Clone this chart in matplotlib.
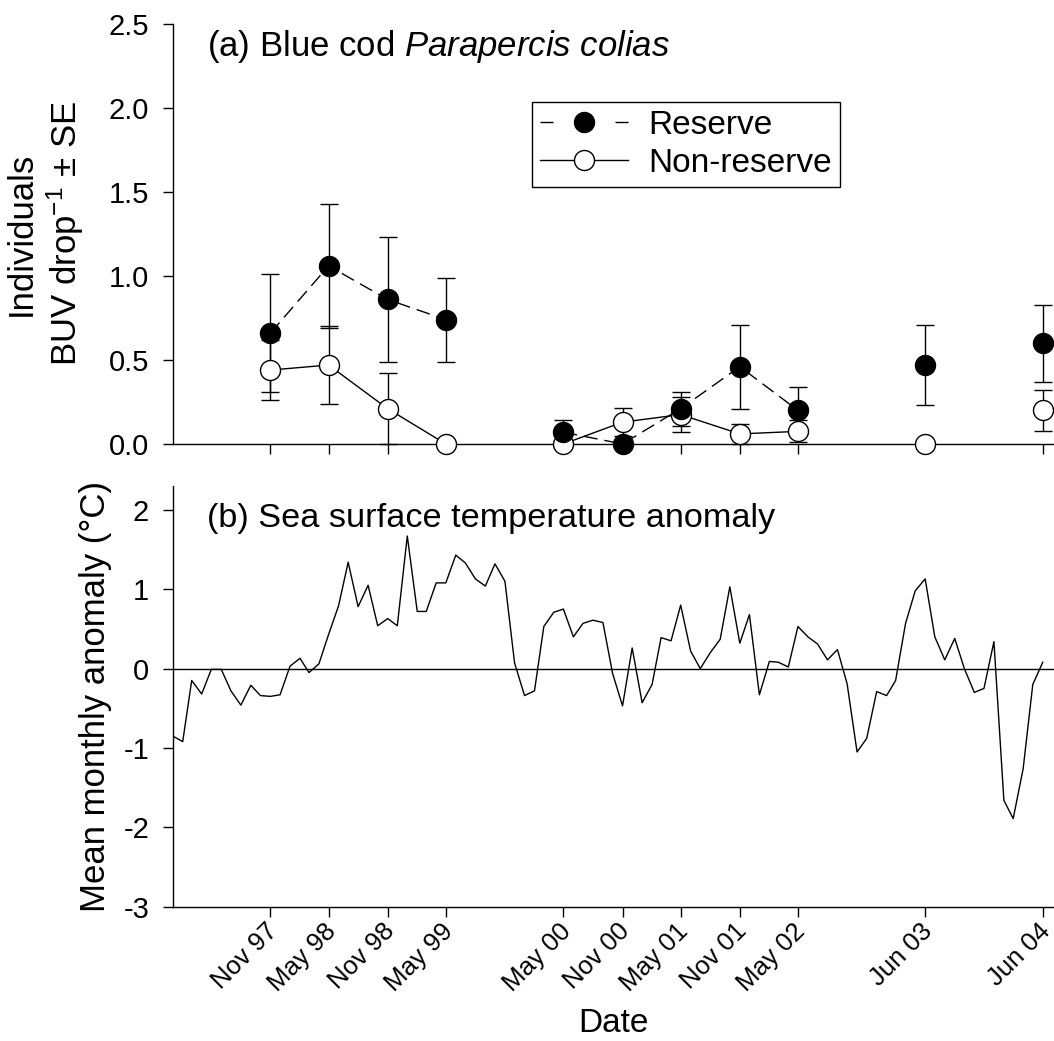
import numpy as np
import pandas as pd
import matplotlib
matplotlib.use("Agg")
import matplotlib.pyplot as plt
import matplotlib.transforms as mtransforms
from matplotlib.lines import Line2D
from matplotlib.ticker import FormatStrFormatter

plt.rcParams["font.family"] = "Liberation Sans"
plt.rcParams["mathtext.fontset"] = "custom"
plt.rcParams["mathtext.rm"] = "Liberation Sans"
plt.rcParams["mathtext.it"] = "Liberation Sans:italic"
plt.rcParams["axes.unicode_minus"] = False

# BUV survey dates and labels
survey_dates = pd.to_datetime(["1997-11-01", "1998-05-01", "1998-11-01", "1999-05-01",
                               "2000-05-01", "2000-11-01", "2001-05-01", "2001-11-01",
                               "2002-05-01", "2003-06-01", "2004-06-01"])
tick_labels = ["Nov 97", "May 98", "Nov 98", "May 99", "May 00", "Nov 00",
               "May 01", "Nov 01", "May 02", "Jun 03", "Jun 04"]
# surveys joined by a line share a group
survey_group = [0, 0, 0, 0, 1, 1, 1, 1, 1, 2, 3]

reserve_mean = [0.66, 1.06, 0.86, 0.74, 0.07, 0.00, 0.21, 0.46, 0.20, 0.47, 0.60]
reserve_se = [0.35, 0.37, 0.37, 0.25, 0.07, 0.00, 0.10, 0.25, 0.14, 0.24, 0.23]
nonres_mean = [0.44, 0.47, 0.21, 0.00, 0.00, 0.13, 0.175, 0.06, 0.075, 0.00, 0.20]
nonres_se = [0.18, 0.23, 0.21, 0.00, 0.00, 0.085, 0.105, 0.06, 0.065, 0.00, 0.12]

# monthly SST anomaly, Jan 1997 - Jun 2004
sst_dates = pd.date_range("1997-01-01", "2004-06-01", freq="MS")
sst_anomaly = [
    -0.85, -0.92, -0.15, -0.32, -0.01, -0.01, -0.28, -0.46, -0.21, -0.34, -0.35, -0.33,
    0.03, 0.13, -0.05, 0.06, 0.43, 0.79, 1.34, 0.78, 1.05, 0.54, 0.63, 0.54,
    1.67, 0.72, 0.72, 1.08, 1.08, 1.43, 1.33, 1.13, 1.04, 1.32, 1.10, 0.07,
    -0.34, -0.28, 0.53, 0.71, 0.75, 0.40, 0.57, 0.61, 0.58, -0.06, -0.47, 0.26,
    -0.43, -0.20, 0.39, 0.35, 0.80, 0.22, 0.00, 0.20, 0.37, 1.03, 0.32, 0.68,
    -0.33, 0.09, 0.08, 0.02, 0.53, 0.40, 0.31, 0.11, 0.24, -0.19, -1.05, -0.88,
    -0.29, -0.34, -0.15, 0.57, 0.98, 1.13, 0.40, 0.11, 0.38, 0.00, -0.30, -0.25,
    0.34, -1.66, -1.89, -1.26, -0.20, 0.08,
]

xmin = pd.Timestamp("1997-01-01")
xmax = pd.Timestamp("2004-07-06")

fig = plt.figure(figsize=(10.54, 10.41), dpi=100)
ax1 = fig.add_axes([0.1639, 0.5735, 0.8361, 0.4035])
ax2 = fig.add_axes([0.1639, 0.1290, 0.8361, 0.4041])

for ax in (ax1, ax2):
    ax.spines["top"].set_visible(False)
    ax.spines["right"].set_visible(False)
    ax.spines["left"].set_linewidth(1.0)
    ax.spines["bottom"].set_linewidth(1.0)
    ax.tick_params(direction="out", length=7, width=1, labelsize=21, pad=10)
    ax.set_xlim(xmin, xmax)
    ax.set_xticks(survey_dates)

# ---- (a) blue cod ----
rm = np.array(reserve_mean)
rs = np.array(reserve_se)
nm = np.array(nonres_mean)
ns = np.array(nonres_se)
grp = np.array(survey_group)

ok = rs > 0
ax1.errorbar(survey_dates[ok], rm[ok], yerr=rs[ok], fmt="none", ecolor="black",
             elinewidth=1, capsize=6.8, capthick=1, clip_on=False, zorder=2)
ok = ns > 0
ax1.errorbar(survey_dates[ok], nm[ok], yerr=ns[ok], fmt="none", ecolor="black",
             elinewidth=1, capsize=6.8, capthick=1, clip_on=False, zorder=2)

for g in np.unique(grp):
    idx = grp == g
    ax1.plot(survey_dates[idx], nm[idx], "-", color="black", lw=1, zorder=3, clip_on=False)
    ax1.plot(survey_dates[idx], rm[idx], color="black", lw=1, dashes=(10, 5), zorder=3,
             clip_on=False)

ax1.plot(survey_dates, nm, "o", ms=14.4, mfc="white", mec="black", mew=1,
         zorder=4, clip_on=False)
ax1.plot(survey_dates, rm, "o", ms=14.4, mfc="black", mec="black", mew=1,
         zorder=5, clip_on=False)

ax1.set_ylim(0, 2.5)
ax1.set_yticks(np.arange(0, 2.51, 0.5))
ax1.yaxis.set_major_formatter(FormatStrFormatter("%.1f"))
ax1.set_xticklabels([])
ax1.set_ylabel("Individuals\nBUV drop$^{-1}$ ± SE", fontsize=25)
ax1.yaxis.set_label_coords(-0.099, 0.5)
ax1.text(0.0386, 0.99, "(a) Blue cod $\\it{Parapercis\\ colias}$", transform=ax1.transAxes,
         fontsize=25, ha="left", va="top")

h_res = Line2D([], [], color="black", lw=1, dashes=(9.4, 44.6), marker="o", ms=14.4,
               mfc="black", mec="black")
h_non = Line2D([], [], color="black", lw=1, marker="o", ms=14.4, mfc="white", mec="black")
leg = ax1.legend([h_res, h_non], ["Reserve", "Non-reserve"], loc="upper left",
                 bbox_to_anchor=(0.4075, 0.815), borderaxespad=0, fontsize=24,
                 frameon=True, fancybox=False, edgecolor="black", framealpha=1,
                 handlelength=2.64, handletextpad=0.6, borderpad=0.25, labelspacing=0.2)
leg.get_frame().set_linewidth(1.0)

# ---- (b) SST anomaly ----
ax2.axhline(0, color="black", lw=1)
ax2.plot(sst_dates, sst_anomaly, color="black", lw=1)
ax2.set_ylim(-3, 2.3)
ax2.set_yticks(np.arange(-3, 3, 1))
ax2.set_xticklabels(tick_labels, rotation=45, ha="right", va="top",
                    rotation_mode="anchor", fontsize=18.5)
ax2.tick_params(axis="x", pad=2)
shift = mtransforms.ScaledTranslation(-5 / 100, 0, fig.dpi_scale_trans)
for lab in ax2.get_xticklabels():
    lab.set_transform(lab.get_transform() + shift)
ax2.set_ylabel("Mean monthly anomaly (°C)", fontsize=25)
ax2.yaxis.set_label_coords(-0.069, 0.5)
ax2.set_xlabel("Date", fontsize=24, va="top")
ax2.xaxis.set_label_coords(0.5, -0.241)
ax2.text(0.0386, 0.96, "(b) Sea surface temperature anomaly", transform=ax2.transAxes,
         fontsize=24.7, ha="left", va="top")

fig.savefig("out.png", dpi=100)
